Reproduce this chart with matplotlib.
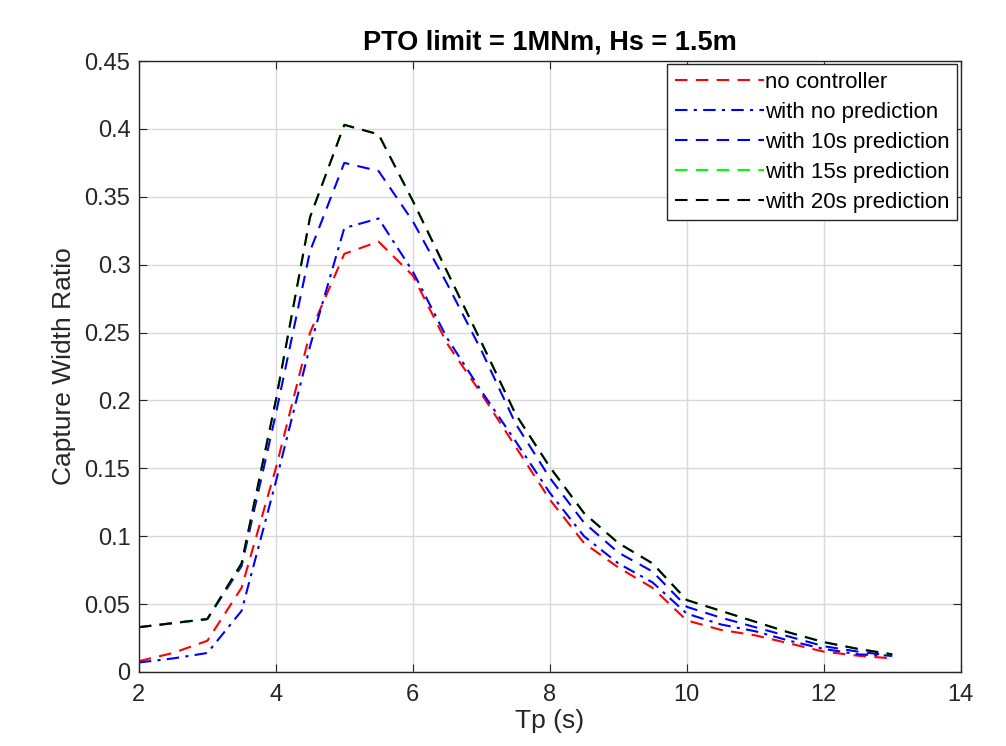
import matplotlib
matplotlib.use("Agg")
from matplotlib import pyplot as plt

tp = [2, 2.5, 3, 3.5, 4, 4.5, 5, 5.5, 6, 6.5, 7, 7.5, 8, 8.5, 9, 9.5,
      10, 10.5, 11, 11.5, 12, 12.5, 13]

no_controller = [0.008, 0.014, 0.023, 0.062, 0.150, 0.250, 0.308, 0.317,
                 0.292, 0.242, 0.205, 0.166, 0.127, 0.095, 0.077, 0.062,
                 0.038, 0.031, 0.027, 0.021, 0.015, 0.012, 0.010]
no_prediction = [0.007, 0.010, 0.014, 0.045, 0.140, 0.240, 0.327, 0.334,
                 0.295, 0.246, 0.207, 0.170, 0.132, 0.100, 0.080, 0.066,
                 0.043, 0.035, 0.030, 0.023, 0.017, 0.013, 0.012]
pred_10s = [0.033, 0.036, 0.039, 0.078, 0.190, 0.310, 0.375, 0.369,
            0.332, 0.286, 0.237, 0.183, 0.143, 0.110, 0.088, 0.074,
            0.048, 0.040, 0.033, 0.026, 0.019, 0.015, 0.012]
pred_15s = [0.033, 0.036, 0.039, 0.080, 0.200, 0.335, 0.403, 0.396,
            0.347, 0.295, 0.243, 0.190, 0.151, 0.117, 0.095, 0.080,
            0.053, 0.045, 0.037, 0.029, 0.022, 0.017, 0.013]
pred_20s = [0.033, 0.036, 0.039, 0.080, 0.200, 0.335, 0.403, 0.396,
            0.347, 0.295, 0.243, 0.190, 0.151, 0.117, 0.095, 0.080,
            0.053, 0.045, 0.037, 0.029, 0.022, 0.017, 0.013]

series = [
    ("no controller", no_controller, "#ff0000", (0, (6, 4))),
    ("with no prediction", no_prediction, "#0000ff", (0, (6, 3, 1.5, 3))),
    ("with 10s prediction", pred_10s, "#0000ff", (0, (6, 4))),
    ("with 15s prediction", pred_15s, "#00ff00", (0, (6, 4))),
    ("with 20s prediction", pred_20s, "#000000", (0, (6, 4))),
]

plt.rcParams["font.family"] = ["Liberation Sans", "DejaVu Sans"]

fig = plt.figure(figsize=(10.06, 7.46), dpi=100)
ax = fig.add_axes([0.138, 0.0992, 0.817, 0.819])

for label, values, color, style in series:
    ax.plot(tp, values, color=color, linestyle=style, linewidth=1.5, label=label)

ax.set_xlim(2, 14)
ax.set_ylim(0, 0.45)
ax.set_xticks([2, 4, 6, 8, 10, 12, 14])
ax.set_yticks([0, 0.05, 0.1, 0.15, 0.2, 0.25, 0.3, 0.35, 0.4, 0.45])
ax.set_yticklabels(["0", "0.05", "0.1", "0.15", "0.2", "0.25", "0.3", "0.35", "0.4", "0.45"])
ax.grid(True, color="#d9d9d9", linewidth=1.0)
ax.set_axisbelow(True)
ax.tick_params(direction="in", top=True, right=True, labelsize=17,
               colors="#262626", length=6, pad=6)
ax.tick_params(axis="x", pad=9)
for spine in ax.spines.values():
    spine.set_color("#262626")
    spine.set_linewidth(1.0)

ax.set_xlabel("Tp (s)", fontsize=19, color="#262626", labelpad=2)
ax.set_ylabel("Capture Width Ratio", fontsize=19, color="#262626", labelpad=6)
ax.set_title("PTO limit = 1MNm, Hs = 1.5m", fontsize=19.5, fontweight="bold", pad=8)

leg = ax.legend(loc="upper right", fontsize=16, frameon=True, fancybox=False,
                edgecolor="#262626", framealpha=1.0, handlelength=4.0,
                handletextpad=0.05, borderaxespad=0.15, labelspacing=0.4,
                borderpad=0.35)
leg.get_frame().set_linewidth(1.0)

fig.savefig("out.png", dpi=100)
